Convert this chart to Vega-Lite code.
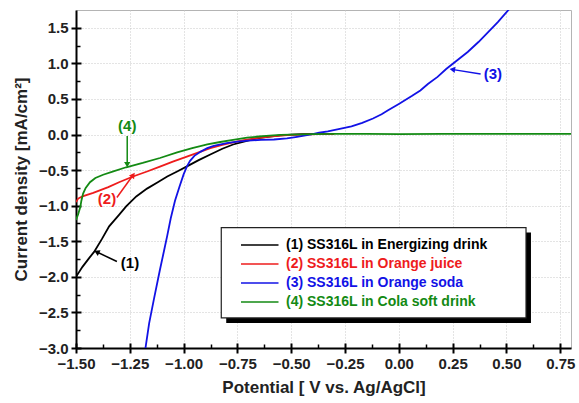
{
  "$schema": "https://vega.github.io/schema/vega-lite/v6.json",
  "width": 495,
  "height": 338,
  "autosize": {"type": "none"},
  "padding": {"left": 76, "top": 10, "right": 8, "bottom": 55},
  "config": {
    "view": {"stroke": "#b4b4b4", "strokeWidth": 1},
    "font": "Liberation Sans",
    "axis": {
      "labelFont": "Liberation Sans", "labelFontWeight": "bold", "labelFontSize": 15, "labelColor": "#222",
      "titleFont": "Liberation Sans", "titleFontWeight": "bold", "titleFontSize": 17, "titleColor": "#222",
      "tickColor": "#000", "domainColor": "#000", "gridColor": "#c8c8c8", "gridDash": [1, 2], "gridWidth": 1,
      "labelFlush": false, "labelOverlap": false
    }
  },
  "datasets": {
    "curves": [
      {"series": "(1) SS316L in Energizing drink", "x": -1.50, "y": -2.00},
      {"series": "(1) SS316L in Energizing drink", "x": -1.47, "y": -1.86},
      {"series": "(1) SS316L in Energizing drink", "x": -1.44, "y": -1.74},
      {"series": "(1) SS316L in Energizing drink", "x": -1.416, "y": -1.65},
      {"series": "(1) SS316L in Energizing drink", "x": -1.38, "y": -1.47},
      {"series": "(1) SS316L in Energizing drink", "x": -1.346, "y": -1.29},
      {"series": "(1) SS316L in Energizing drink", "x": -1.30, "y": -1.13},
      {"series": "(1) SS316L in Energizing drink", "x": -1.267, "y": -1.01},
      {"series": "(1) SS316L in Energizing drink", "x": -1.22, "y": -0.87},
      {"series": "(1) SS316L in Energizing drink", "x": -1.17, "y": -0.76},
      {"series": "(1) SS316L in Energizing drink", "x": -1.12, "y": -0.67},
      {"series": "(1) SS316L in Energizing drink", "x": -1.076, "y": -0.59},
      {"series": "(1) SS316L in Energizing drink", "x": -1.03, "y": -0.52},
      {"series": "(1) SS316L in Energizing drink", "x": -0.98, "y": -0.44},
      {"series": "(1) SS316L in Energizing drink", "x": -0.93, "y": -0.36},
      {"series": "(1) SS316L in Energizing drink", "x": -0.876, "y": -0.28},
      {"series": "(1) SS316L in Energizing drink", "x": -0.82, "y": -0.20},
      {"series": "(1) SS316L in Energizing drink", "x": -0.77, "y": -0.14},
      {"series": "(1) SS316L in Energizing drink", "x": -0.72, "y": -0.10},
      {"series": "(1) SS316L in Energizing drink", "x": -0.66, "y": -0.055},
      {"series": "(1) SS316L in Energizing drink", "x": -0.60, "y": -0.03},
      {"series": "(1) SS316L in Energizing drink", "x": -0.55, "y": -0.012},
      {"series": "(1) SS316L in Energizing drink", "x": -0.50, "y": -0.002},
      {"series": "(1) SS316L in Energizing drink", "x": -0.45, "y": 0.004},
      {"series": "(1) SS316L in Energizing drink", "x": -0.40, "y": 0.008},
      {"series": "(1) SS316L in Energizing drink", "x": -0.32, "y": 0.01},
      {"series": "(2) SS316L in Orange juice", "x": -1.50, "y": -0.95},
      {"series": "(2) SS316L in Orange juice", "x": -1.49, "y": -0.90},
      {"series": "(2) SS316L in Orange juice", "x": -1.47, "y": -0.87},
      {"series": "(2) SS316L in Orange juice", "x": -1.42, "y": -0.82},
      {"series": "(2) SS316L in Orange juice", "x": -1.35, "y": -0.74},
      {"series": "(2) SS316L in Orange juice", "x": -1.30, "y": -0.67},
      {"series": "(2) SS316L in Orange juice", "x": -1.235, "y": -0.59},
      {"series": "(2) SS316L in Orange juice", "x": -1.17, "y": -0.52},
      {"series": "(2) SS316L in Orange juice", "x": -1.11, "y": -0.45},
      {"series": "(2) SS316L in Orange juice", "x": -1.05, "y": -0.38},
      {"series": "(2) SS316L in Orange juice", "x": -0.985, "y": -0.31},
      {"series": "(2) SS316L in Orange juice", "x": -0.93, "y": -0.25},
      {"series": "(2) SS316L in Orange juice", "x": -0.876, "y": -0.19},
      {"series": "(2) SS316L in Orange juice", "x": -0.82, "y": -0.145},
      {"series": "(2) SS316L in Orange juice", "x": -0.77, "y": -0.11},
      {"series": "(2) SS316L in Orange juice", "x": -0.72, "y": -0.08},
      {"series": "(2) SS316L in Orange juice", "x": -0.66, "y": -0.05},
      {"series": "(2) SS316L in Orange juice", "x": -0.60, "y": -0.03},
      {"series": "(2) SS316L in Orange juice", "x": -0.55, "y": -0.015},
      {"series": "(2) SS316L in Orange juice", "x": -0.50, "y": -0.005},
      {"series": "(2) SS316L in Orange juice", "x": -0.45, "y": 0.0},
      {"series": "(2) SS316L in Orange juice", "x": -0.38, "y": 0.005},
      {"series": "(2) SS316L in Orange juice", "x": -0.30, "y": 0.006},
      {"series": "(3) SS316L in Orange soda", "x": -1.182, "y": -3.1},
      {"series": "(3) SS316L in Orange soda", "x": -1.16, "y": -2.65},
      {"series": "(3) SS316L in Orange soda", "x": -1.137, "y": -2.30},
      {"series": "(3) SS316L in Orange soda", "x": -1.11, "y": -1.90},
      {"series": "(3) SS316L in Orange soda", "x": -1.09, "y": -1.62},
      {"series": "(3) SS316L in Orange soda", "x": -1.076, "y": -1.42},
      {"series": "(3) SS316L in Orange soda", "x": -1.06, "y": -1.18},
      {"series": "(3) SS316L in Orange soda", "x": -1.04, "y": -0.93},
      {"series": "(3) SS316L in Orange soda", "x": -1.02, "y": -0.74},
      {"series": "(3) SS316L in Orange soda", "x": -1.00, "y": -0.56},
      {"series": "(3) SS316L in Orange soda", "x": -0.985, "y": -0.45},
      {"series": "(3) SS316L in Orange soda", "x": -0.97, "y": -0.37},
      {"series": "(3) SS316L in Orange soda", "x": -0.95, "y": -0.30},
      {"series": "(3) SS316L in Orange soda", "x": -0.92, "y": -0.24},
      {"series": "(3) SS316L in Orange soda", "x": -0.89, "y": -0.19},
      {"series": "(3) SS316L in Orange soda", "x": -0.86, "y": -0.16},
      {"series": "(3) SS316L in Orange soda", "x": -0.80, "y": -0.12},
      {"series": "(3) SS316L in Orange soda", "x": -0.75, "y": -0.10},
      {"series": "(3) SS316L in Orange soda", "x": -0.70, "y": -0.085},
      {"series": "(3) SS316L in Orange soda", "x": -0.64, "y": -0.075},
      {"series": "(3) SS316L in Orange soda", "x": -0.58, "y": -0.07},
      {"series": "(3) SS316L in Orange soda", "x": -0.52, "y": -0.055},
      {"series": "(3) SS316L in Orange soda", "x": -0.48, "y": -0.035},
      {"series": "(3) SS316L in Orange soda", "x": -0.44, "y": -0.015},
      {"series": "(3) SS316L in Orange soda", "x": -0.40, "y": 0.005},
      {"series": "(3) SS316L in Orange soda", "x": -0.37, "y": 0.025},
      {"series": "(3) SS316L in Orange soda", "x": -0.33, "y": 0.045},
      {"series": "(3) SS316L in Orange soda", "x": -0.28, "y": 0.075},
      {"series": "(3) SS316L in Orange soda", "x": -0.22, "y": 0.115},
      {"series": "(3) SS316L in Orange soda", "x": -0.17, "y": 0.165},
      {"series": "(3) SS316L in Orange soda", "x": -0.12, "y": 0.225},
      {"series": "(3) SS316L in Orange soda", "x": -0.08, "y": 0.285},
      {"series": "(3) SS316L in Orange soda", "x": -0.05, "y": 0.34},
      {"series": "(3) SS316L in Orange soda", "x": 0.00, "y": 0.43},
      {"series": "(3) SS316L in Orange soda", "x": 0.06, "y": 0.54},
      {"series": "(3) SS316L in Orange soda", "x": 0.10, "y": 0.62},
      {"series": "(3) SS316L in Orange soda", "x": 0.135, "y": 0.71},
      {"series": "(3) SS316L in Orange soda", "x": 0.18, "y": 0.81},
      {"series": "(3) SS316L in Orange soda", "x": 0.22, "y": 0.92},
      {"series": "(3) SS316L in Orange soda", "x": 0.27, "y": 1.04},
      {"series": "(3) SS316L in Orange soda", "x": 0.32, "y": 1.16},
      {"series": "(3) SS316L in Orange soda", "x": 0.37, "y": 1.30},
      {"series": "(3) SS316L in Orange soda", "x": 0.415, "y": 1.44},
      {"series": "(3) SS316L in Orange soda", "x": 0.46, "y": 1.58},
      {"series": "(3) SS316L in Orange soda", "x": 0.515, "y": 1.77},
      {"series": "(3) SS316L in Orange soda", "x": 0.535, "y": 1.84},
      {"series": "(4) SS316L in Cola soft drink", "x": -1.50, "y": -1.20},
      {"series": "(4) SS316L in Cola soft drink", "x": -1.49, "y": -1.12},
      {"series": "(4) SS316L in Cola soft drink", "x": -1.48, "y": -1.02},
      {"series": "(4) SS316L in Cola soft drink", "x": -1.475, "y": -0.93},
      {"series": "(4) SS316L in Cola soft drink", "x": -1.467, "y": -0.83},
      {"series": "(4) SS316L in Cola soft drink", "x": -1.455, "y": -0.75},
      {"series": "(4) SS316L in Cola soft drink", "x": -1.435, "y": -0.67},
      {"series": "(4) SS316L in Cola soft drink", "x": -1.41, "y": -0.61},
      {"series": "(4) SS316L in Cola soft drink", "x": -1.374, "y": -0.565},
      {"series": "(4) SS316L in Cola soft drink", "x": -1.33, "y": -0.52},
      {"series": "(4) SS316L in Cola soft drink", "x": -1.267, "y": -0.46},
      {"series": "(4) SS316L in Cola soft drink", "x": -1.19, "y": -0.40},
      {"series": "(4) SS316L in Cola soft drink", "x": -1.11, "y": -0.33},
      {"series": "(4) SS316L in Cola soft drink", "x": -1.03, "y": -0.25},
      {"series": "(4) SS316L in Cola soft drink", "x": -0.96, "y": -0.19},
      {"series": "(4) SS316L in Cola soft drink", "x": -0.89, "y": -0.14},
      {"series": "(4) SS316L in Cola soft drink", "x": -0.83, "y": -0.105},
      {"series": "(4) SS316L in Cola soft drink", "x": -0.77, "y": -0.075},
      {"series": "(4) SS316L in Cola soft drink", "x": -0.705, "y": -0.045},
      {"series": "(4) SS316L in Cola soft drink", "x": -0.65, "y": -0.028},
      {"series": "(4) SS316L in Cola soft drink", "x": -0.60, "y": -0.014},
      {"series": "(4) SS316L in Cola soft drink", "x": -0.55, "y": -0.004},
      {"series": "(4) SS316L in Cola soft drink", "x": -0.50, "y": 0.0},
      {"series": "(4) SS316L in Cola soft drink", "x": -0.40, "y": 0.006},
      {"series": "(4) SS316L in Cola soft drink", "x": -0.30, "y": 0.008},
      {"series": "(4) SS316L in Cola soft drink", "x": -0.15, "y": 0.008},
      {"series": "(4) SS316L in Cola soft drink", "x": 0.00, "y": 0.007},
      {"series": "(4) SS316L in Cola soft drink", "x": 0.20, "y": 0.008},
      {"series": "(4) SS316L in Cola soft drink", "x": 0.40, "y": 0.009},
      {"series": "(4) SS316L in Cola soft drink", "x": 0.60, "y": 0.008},
      {"series": "(4) SS316L in Cola soft drink", "x": 0.80, "y": 0.008}
    ],
    "ann": [
      {"id": 1, "series": "(1) SS316L in Energizing drink", "label": "(1)", "tx": -1.249, "ty": -1.80, "x": -1.31, "y": -1.785, "x2": -1.40, "y2": -1.655},
      {"id": 2, "series": "(2) SS316L in Orange juice", "label": "(2)", "tx": -1.356, "ty": -0.91, "x": -1.31, "y": -0.885, "x2": -1.237, "y2": -0.58},
      {"id": 3, "series": "(3) SS316L in Orange soda", "label": "(3)", "tx": 0.437, "ty": 0.85, "x": 0.38, "y": 0.85, "x2": 0.253, "y2": 0.912},
      {"id": 4, "series": "(4) SS316L in Cola soft drink", "label": "(4)", "tx": -1.262, "ty": 0.12, "x": -1.262, "y": -0.02, "x2": -1.262, "y2": -0.41}
    ],
    "box": [
      {"kind": "shadow", "x1": -0.802, "x2": 0.614, "y1": -1.377, "y2": -2.647},
      {"kind": "box", "x1": -0.825, "x2": 0.591, "y1": -1.307, "y2": -2.577}
    ]
  },
  "resolve": {"scale": {"x": "shared", "y": "shared"}, "axis": {"x": "independent", "y": "independent"}},
  "layer": [
    {
      "data": {"name": "box"},
      "transform": [{"filter": "datum.kind === 'shadow'"}],
      "mark": {"type": "rect", "fill": "#000"},
      "encoding": {
        "x": {"field": "x1", "type": "quantitative", "axis": {"orient": "bottom", "values": [-1.375, -1.125, -0.875, -0.625, -0.375, -0.125, 0.125, 0.375, 0.625], "labels": false, "domain": false, "grid": false, "title": null, "tickSize": -4, "tickWidth": 1.5}},
        "x2": {"field": "x2"},
        "y": {"field": "y1", "type": "quantitative", "axis": {"orient": "left", "values": [-2.75, -2.25, -1.75, -1.25, -0.75, -0.25, 0.25, 0.75, 1.25], "labels": false, "domain": false, "grid": false, "title": null, "tickSize": -4, "tickWidth": 1.5}},
        "y2": {"field": "y2"}
      }
    },
    {
      "data": {"name": "box"},
      "transform": [{"filter": "datum.kind === 'box'"}],
      "mark": {"type": "rect", "fill": "#fff", "stroke": "#222", "strokeWidth": 1.2},
      "encoding": {
        "x": {"field": "x1", "type": "quantitative", "axis": {"orient": "bottom", "values": [-1.5, -1.25, -1.0, -0.75, -0.5, -0.25, 0, 0.25, 0.5, 0.75], "labels": false, "domain": false, "grid": false, "title": null, "tickSize": -5, "tickWidth": 2}},
        "x2": {"field": "x2"},
        "y": {"field": "y1", "type": "quantitative", "axis": {"orient": "left", "values": [-3, -2.5, -2, -1.5, -1, -0.5, 0, 0.5, 1, 1.5], "labels": false, "domain": false, "grid": false, "title": null, "tickSize": -5, "tickWidth": 2}},
        "y2": {"field": "y2"}
      }
    },
    {
      "data": {"name": "curves"},
      "mark": {"type": "line", "strokeWidth": 1.8, "clip": true},
      "encoding": {
        "x": {"field": "x", "type": "quantitative", "scale": {"domain": [-1.5, 0.8], "nice": false, "zero": false},
          "axis": {"orient": "bottom", "values": [-1.5, -1.25, -1.0, -0.75, -0.5, -0.25, 0, 0.25, 0.5, 0.75], "format": ".2f", "title": "Potential [ V vs. Ag/AgCl]", "tickSize": 5, "tickWidth": 2, "domainWidth": 2, "labelPadding": 3, "titlePadding": 8, "grid": true}},
        "y": {"field": "y", "type": "quantitative", "scale": {"domain": [-3, 1.75], "nice": false, "zero": false},
          "axis": {"orient": "left", "values": [-3, -2.5, -2, -1.5, -1, -0.5, 0, 0.5, 1, 1.5], "format": ".1f", "title": "Current density [mA/cm²]", "tickSize": 5, "tickWidth": 2, "domainWidth": 2, "labelPadding": 3, "titlePadding": 8, "grid": true}},
        "color": {"field": "series", "type": "nominal",
          "scale": {"domain": ["(1) SS316L in Energizing drink", "(2) SS316L in Orange juice", "(3) SS316L in Orange soda", "(4) SS316L in Cola soft drink"], "range": ["#000000", "#ee1c1c", "#1212e6", "#138a13"]},
          "legend": {"orient": "none", "legendX": 193, "legendY": 228, "title": null, "symbolType": "M-14,0H1", "symbolSize": 25, "symbolStrokeWidth": 1.5, "labelFont": "Liberation Sans", "labelFontSize": 14, "labelFontWeight": "bold", "labelOffset": 3, "rowPadding": 5, "padding": 0, "labelLimit": 400,
            "encode": {"labels": {"update": {"fill": {"scale": "color", "field": "value"}}}}}},
        "order": {"field": "x", "type": "quantitative"}
      }
    },
    {
      "data": {"name": "ann"},
      "mark": {"type": "rule", "strokeWidth": 1.5},
      "encoding": {
        "x": {"field": "x", "type": "quantitative", "axis": null},
        "y": {"field": "y", "type": "quantitative", "axis": null},
        "x2": {"field": "x2"},
        "y2": {"field": "y2"},
        "color": {"field": "series", "type": "nominal", "legend": null}
      }
    },
    {
      "data": {"name": "ann"},
      "mark": {"type": "text", "fontSize": 15, "fontWeight": "bold", "font": "Liberation Sans"},
      "encoding": {
        "x": {"field": "tx", "type": "quantitative", "axis": null},
        "y": {"field": "ty", "type": "quantitative", "axis": null},
        "text": {"field": "label"},
        "color": {"field": "series", "type": "nominal", "legend": null}
      }
    },
    {
      "data": {"name": "ann"},
      "transform": [{"filter": "datum.id === 1"}],
      "mark": {"type": "point", "shape": "triangle", "filled": true, "size": 40, "angle": 296, "opacity": 1},
      "encoding": {
        "x": {"field": "x2", "type": "quantitative", "axis": null},
        "y": {"field": "y2", "type": "quantitative", "axis": null},
        "color": {"field": "series", "type": "nominal", "legend": null}
      }
    },
    {
      "data": {"name": "ann"},
      "transform": [{"filter": "datum.id === 2"}],
      "mark": {"type": "point", "shape": "triangle", "filled": true, "size": 40, "angle": 36, "opacity": 1},
      "encoding": {
        "x": {"field": "x2", "type": "quantitative", "axis": null},
        "y": {"field": "y2", "type": "quantitative", "axis": null},
        "color": {"field": "series", "type": "nominal", "legend": null}
      }
    },
    {
      "data": {"name": "ann"},
      "transform": [{"filter": "datum.id === 3"}],
      "mark": {"type": "point", "shape": "triangle", "filled": true, "size": 40, "angle": 279, "opacity": 1},
      "encoding": {
        "x": {"field": "x2", "type": "quantitative", "axis": null},
        "y": {"field": "y2", "type": "quantitative", "axis": null},
        "color": {"field": "series", "type": "nominal", "legend": null}
      }
    },
    {
      "data": {"name": "ann"},
      "transform": [{"filter": "datum.id === 4"}],
      "mark": {"type": "point", "shape": "triangle", "filled": true, "size": 40, "angle": 180, "opacity": 1},
      "encoding": {
        "x": {"field": "x2", "type": "quantitative", "axis": null},
        "y": {"field": "y2", "type": "quantitative", "axis": null},
        "color": {"field": "series", "type": "nominal", "legend": null}
      }
    }
  ]
}
